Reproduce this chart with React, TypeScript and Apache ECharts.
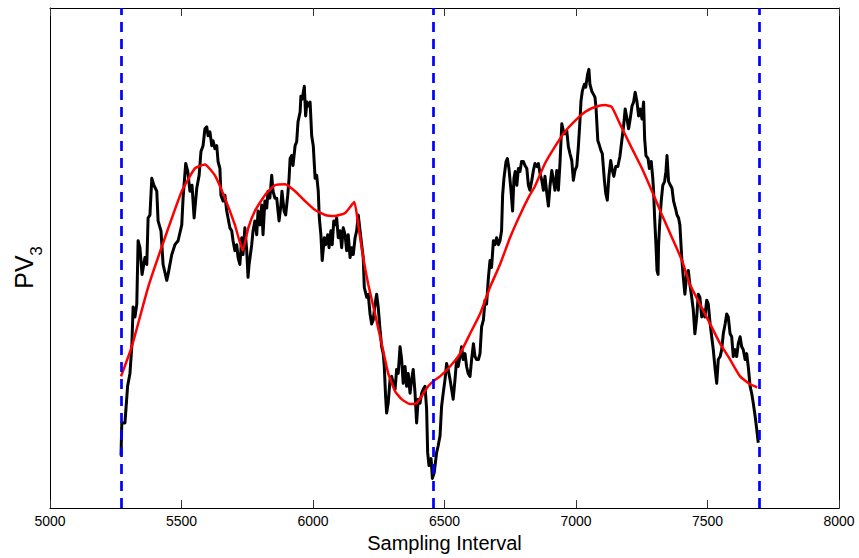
import React, { useEffect, useRef } from "react";
import * as echarts from "echarts";

// Black trace: [sampling interval, PV3 (arbitrary units)]
const pv3Raw: [number, number][] = [
  [5270,53],[5273,86],[5285,86],[5295,123],[5304,136],[5311,163],[5316,203],[5323,193],[5330,206],[5335,270],[5342,263],[5350,236],[5361,253],[5368,246],[5373,293],[5380,296],[5387,333],[5395,326],[5406,320],[5411,290],[5422,280],[5430,246],[5444,230],[5449,236],[5463,256],[5475,266],[5487,270],[5501,286],[5506,313],[5516,348],[5524,340],[5532,320],[5540,326],[5548,293],[5558,323],[5567,336],[5574,360],[5582,366],[5589,383],[5596,385],[5601,376],[5608,380],[5615,366],[5620,371],[5627,363],[5634,366],[5639,350],[5646,343],[5650,316],[5658,310],[5665,316],[5672,300],[5677,293],[5684,283],[5691,280],[5696,270],[5703,260],[5710,266],[5715,253],[5722,246],[5729,273],[5734,256],[5741,283],[5748,260],[5753,233],[5757,246],[5767,266],[5772,280],[5779,290],[5786,276],[5791,300],[5798,286],[5805,306],[5810,276],[5817,310],[5824,303],[5829,320],[5836,313],[5843,336],[5848,320],[5855,313],[5862,313],[5867,300],[5871,290],[5878,306],[5882,320],[5890,300],[5896,296],[5904,316],[5909,333],[5913,353],[5919,356],[5924,346],[5932,366],[5938,370],[5943,390],[5951,400],[5954,416],[5959,413],[5967,426],[5972,396],[5977,410],[5982,406],[5989,410],[5995,376],[6001,366],[6008,333],[6014,336],[6020,320],[6024,293],[6030,276],[6035,250],[6043,273],[6048,266],[6056,276],[6061,263],[6068,280],[6073,266],[6079,290],[6084,286],[6090,293],[6096,273],[6103,280],[6109,263],[6115,283],[6122,276],[6128,260],[6134,276],[6141,253],[6147,263],[6153,256],[6160,273],[6166,280],[6172,296],[6179,280],[6185,266],[6191,253],[6195,223],[6204,213],[6210,216],[6217,196],[6223,186],[6229,190],[6236,206],[6242,216],[6248,203],[6255,180],[6261,163],[6267,156],[6271,143],[6276,113],[6280,96],[6286,106],[6293,130],[6299,133],[6305,126],[6312,120],[6318,140],[6324,136],[6331,163],[6337,150],[6343,126],[6350,143],[6356,123],[6362,136],[6369,116],[6375,130],[6381,140],[6388,116],[6394,86],[6400,110],[6407,106],[6413,116],[6419,120],[6426,123],[6432,100],[6436,56],[6441,43],[6449,50],[6454,30],[6461,36],[6470,56],[6476,63],[6483,73],[6489,103],[6495,116],[6502,130],[6508,146],[6514,140],[6521,130],[6527,120],[6533,110],[6540,130],[6546,150],[6552,143],[6559,153],[6565,163],[6571,150],[6578,156],[6584,143],[6590,136],[6597,133],[6603,150],[6610,166],[6616,153],[6622,150],[6629,150],[6635,156],[6641,183],[6648,190],[6654,210],[6660,206],[6667,233],[6673,250],[6679,243],[6686,270],[6692,266],[6698,273],[6705,266],[6711,270],[6717,280],[6721,316],[6726,333],[6734,350],[6739,353],[6745,343],[6752,323],[6759,300],[6764,333],[6769,340],[6775,326],[6781,343],[6787,340],[6793,350],[6800,350],[6806,346],[6813,343],[6819,326],[6825,321],[6832,331],[6838,341],[6844,348],[6851,345],[6857,348],[6863,338],[6870,331],[6876,321],[6882,335],[6889,318],[6895,305],[6901,325],[6908,341],[6914,331],[6920,321],[6927,341],[6933,321],[6939,348],[6946,388],[6952,381],[6958,378],[6965,381],[6971,365],[6977,358],[6984,351],[6990,331],[6996,341],[7003,345],[7009,365],[7015,391],[7019,411],[7024,421],[7032,428],[7037,425],[7044,438],[7049,443],[7053,428],[7060,421],[7066,418],[7072,415],[7076,405],[7083,371],[7087,368],[7095,361],[7100,358],[7108,331],[7113,318],[7119,311],[7125,335],[7132,351],[7138,341],[7144,335],[7151,345],[7159,345],[7167,355],[7175,373],[7181,386],[7187,403],[7194,393],[7200,383],[7206,393],[7213,406],[7219,410],[7225,420],[7232,410],[7238,396],[7244,403],[7251,393],[7257,410],[7261,373],[7266,356],[7274,353],[7279,343],[7286,350],[7292,333],[7295,320],[7299,293],[7304,266],[7308,240],[7312,236],[7314,266],[7318,286],[7324,310],[7330,326],[7337,330],[7342,340],[7346,356],[7352,330],[7359,326],[7365,323],[7371,310],[7378,303],[7384,296],[7390,293],[7395,286],[7402,253],[7408,233],[7414,216],[7421,236],[7427,240],[7433,226],[7440,213],[7446,200],[7452,176],[7459,193],[7465,216],[7471,213],[7478,193],[7484,200],[7490,193],[7497,210],[7503,206],[7510,186],[7516,173],[7522,160],[7529,140],[7535,126],[7541,150],[7548,153],[7554,160],[7560,176],[7567,186],[7573,196],[7579,193],[7586,176],[7592,173],[7598,153],[7605,160],[7611,153],[7617,166],[7624,173],[7630,163],[7636,160],[7643,150],[7649,156],[7655,143],[7662,123],[7668,116],[7674,106],[7681,93],[7687,80],[7693,66]
];

// Red fitted curve: [sampling interval, PV3]
const pv3Fit: [number, number][] = [
  [5270,133],[5311,163],[5373,223],[5437,273],[5501,320],[5551,343],[5589,347],[5627,336],[5665,313],[5703,286],[5733,260],[5754,283],[5779,300],[5817,316],[5855,326],[5894,327],[5932,320],[5970,310],[6008,301],[6046,296],[6084,295],[6122,298],[6157,309],[6172,286],[6191,253],[6210,226],[6236,196],[6261,166],[6286,136],[6312,118],[6337,110],[6369,105],[6394,106],[6413,113],[6438,123],[6457,128],[6483,133],[6521,143],[6559,156],[6597,176],[6635,196],[6673,223],[6711,246],[6749,273],[6787,296],[6822,315],[6844,325],[6882,348],[6920,365],[6958,380],[6996,391],[7034,400],[7072,405],[7110,407],[7136,405],[7167,388],[7213,363],[7251,343],[7289,320],[7327,296],[7365,273],[7403,250],[7433,226],[7471,206],[7510,186],[7548,166],[7586,150],[7624,133],[7662,125],[7689,122]
];

// Segment boundaries (blue dashed lines)
const segmentBounds: number[] = [5270, 6457, 7695];

const xMin = 5000;
const xMax = 8000;
const xStep = 500;
const yMin = 0;
const yMax = 505;

const FONT = "Liberation Sans, Arial, Helvetica, sans-serif";

export default function App() {
  const ref = useRef<HTMLDivElement>(null);
  useEffect(() => {
    if (!ref.current) return;
    const chart = echarts.init(ref.current, null, { renderer: "svg" });
    const option: any = {
      animation: false,
      backgroundColor: "#ffffff",
      textStyle: { fontFamily: FONT },
      grid: { left: 50, right: 20, top: 8, bottom: 45, containLabel: false },
      xAxis: [
        {
          type: "value",
          min: xMin,
          max: xMax,
          interval: xStep,
          position: "bottom",
          name: "Sampling Interval",
          nameLocation: "middle",
          nameGap: 21,
          nameTextStyle: { fontSize: 20, color: "#000", fontFamily: FONT, verticalAlign: "top" },
          axisLine: { show: true, onZero: false, lineStyle: { color: "#000", width: 1 } },
          axisTick: { show: true, inside: true, length: 8, lineStyle: { color: "#333", width: 1 } },
          axisLabel: {
            show: true,
            fontSize: 14,
            color: "#000",
            margin: 6,
            fontFamily: FONT,
            formatter: (v: number) => String(v),
          },
          splitLine: { show: false },
        },
        {
          type: "value",
          min: xMin,
          max: xMax,
          interval: xStep,
          position: "top",
          axisLine: { show: true, onZero: false, lineStyle: { color: "#000", width: 1 } },
          axisTick: { show: true, inside: true, length: 8, lineStyle: { color: "#333", width: 1 } },
          axisLabel: { show: false },
          splitLine: { show: false },
        },
      ],
      yAxis: [
        {
          type: "value",
          min: yMin,
          max: yMax,
          position: "left",
          axisLine: { show: true, onZero: false, lineStyle: { color: "#000", width: 1 } },
          axisTick: { show: false },
          axisLabel: { show: false },
          splitLine: { show: false },
        },
        {
          type: "value",
          min: yMin,
          max: yMax,
          position: "right",
          axisLine: { show: true, onZero: false, lineStyle: { color: "#000", width: 1 } },
          axisTick: { show: false },
          axisLabel: { show: false },
          splitLine: { show: false },
        },
      ],
      graphic: [
        {
          type: "text",
          x: 24,
          y: 272,
          rotation: Math.PI / 2,
          style: {
            text: "PV",
            fontSize: 25,
            fontFamily: FONT,
            fill: "#000",
            align: "center",
            verticalAlign: "middle",
          },
        },
        {
          type: "text",
          x: 36,
          y: 251,
          rotation: Math.PI / 2,
          style: {
            text: "3",
            fontSize: 17,
            fontFamily: FONT,
            fill: "#000",
            align: "center",
            verticalAlign: "middle",
          },
        },
      ],
      series: [
        {
          type: "line",
          name: "PV3",
          data: pv3Raw,
          showSymbol: false,
          symbol: "none",
          lineStyle: { color: "#000000", width: 3, join: "round" },
          silent: true,
          z: 2,
        },
        {
          type: "line",
          name: "fit",
          data: pv3Fit,
          showSymbol: false,
          symbol: "none",
          smooth: 0.15,
          lineStyle: { color: "#ff0000", width: 2.5 },
          silent: true,
          z: 3,
        },
        {
          type: "line",
          name: "bounds",
          data: [],
          silent: true,
          z: 4,
          markLine: {
            silent: true,
            symbol: ["none", "none"],
            label: { show: false },
            lineStyle: { color: "#0000ff", width: 2.7, type: [10, 7] },
            emphasis: { disabled: true },
            data: segmentBounds.map((v) => ({ xAxis: v })),
          },
        },
      ],
    };
    chart.setOption(option);
    return () => chart.dispose();
  }, []);
  return (
    <div
      ref={ref}
      style={{ position: "fixed", left: 0, top: 0, width: 859, height: 558, background: "#fff" }}
    />
  );
}
